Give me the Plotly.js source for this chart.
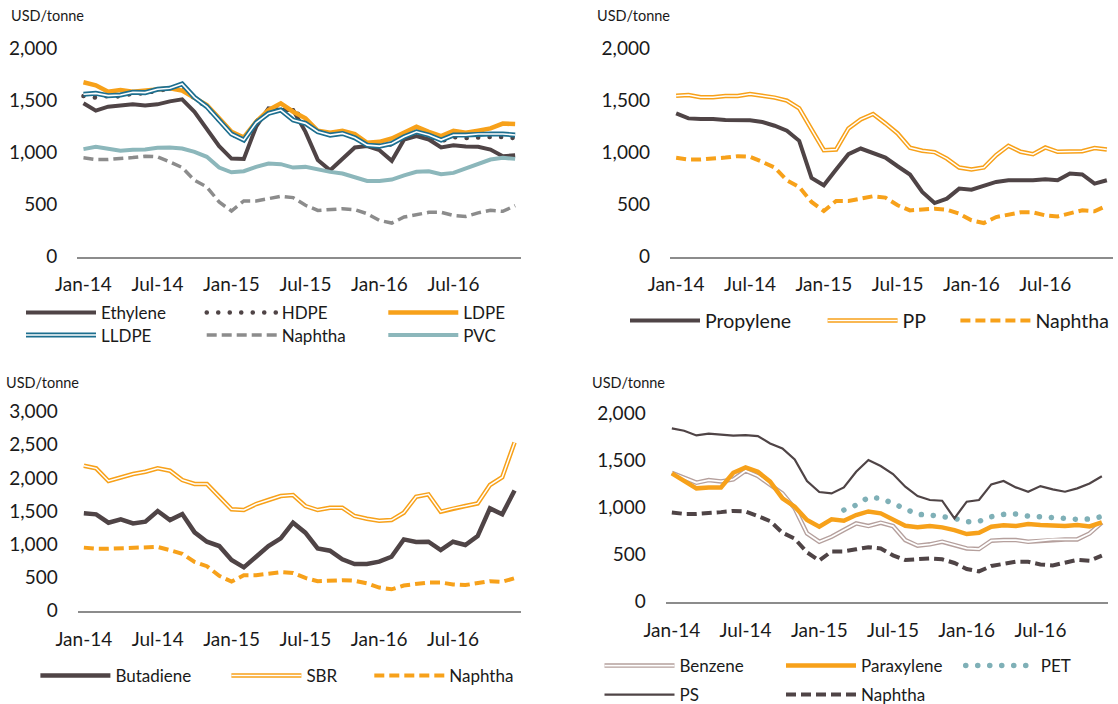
<!DOCTYPE html>
<html>
<head>
<meta charset="utf-8">
<script src="https://cdn.plot.ly/plotly-3.0.1.min.js"></script>
<style>
html,body{margin:0;padding:0;background:#ffffff;}
#chart{width:1118px;height:704px;}
path.js-line[style*="0.1px"]{stroke-linecap:round;}
</style>
</head>
<body>
<div id="chart"></div>
<script>
// ---------------- data ----------------
const months = ['Jan-14','Feb-14','Mar-14','Apr-14','May-14','Jun-14','Jul-14','Aug-14','Sep-14','Oct-14','Nov-14','Dec-14',
                'Jan-15','Feb-15','Mar-15','Apr-15','May-15','Jun-15','Jul-15','Aug-15','Sep-15','Oct-15','Nov-15','Dec-15',
                'Jan-16','Feb-16','Mar-16','Apr-16','May-16','Jun-16','Jul-16','Aug-16','Sep-16','Oct-16','Nov-16','Dec-16'];
const tickLabels = ['Jan-14','Jul-14','Jan-15','Jul-15','Jan-16','Jul-16'];
const yTicks2000 = [0,500,1000,1500,2000];
const yTicks3000 = [0,500,1000,1500,2000,2500,3000];
const unitLabel = 'USD/tonne';

const naphtha   = [950,934,934,940,953,966,960,911,857,734,670,525,438,535,535,557,580,567,493,444,451,460,451,412,348,322,380,406,425,425,396,386,420,445,435,490];

const ethylene  = [1475,1404,1443,1452,1465,1455,1465,1494,1513,1394,1233,1063,943,940,1250,1426,1410,1410,1200,930,830,943,1050,1063,1024,921,1127,1159,1127,1050,1072,1059,1056,1030,965,975];
const hdpe      = [1545,1530,1545,1540,1570,1570,1600,1610,1640,1520,1440,1310,1180,1120,1300,1400,1420,1420,1300,1200,1170,1190,1150,1070,1060,1080,1150,1180,1160,1110,1150,1140,1150,1150,1150,1140];
const ldpe      = [1678,1649,1587,1604,1587,1597,1610,1620,1597,1533,1459,1330,1201,1146,1298,1410,1475,1394,1330,1211,1191,1211,1179,1095,1104,1137,1191,1249,1201,1159,1211,1191,1211,1233,1280,1275];
const lldpe     = [1562,1571,1549,1555,1581,1578,1610,1620,1662,1533,1443,1314,1179,1121,1288,1378,1410,1314,1282,1201,1169,1185,1143,1072,1063,1088,1153,1201,1169,1121,1169,1169,1179,1179,1180,1170];
const pvc       = [1034,1056,1037,1018,1027,1030,1047,1050,1040,1008,960,856,811,821,863,895,889,856,863,837,815,799,766,728,728,741,782,815,821,792,805,847,895,934,950,940];

const propylene = [1378,1330,1324,1324,1314,1311,1311,1295,1259,1211,1114,757,686,837,985,1040,992,953,869,789,621,515,557,654,644,686,718,734,734,734,744,734,800,790,702,734];
const pp        = [1549,1555,1533,1533,1546,1546,1565,1549,1530,1501,1427,1224,1024,1030,1233,1320,1372,1282,1185,1047,1018,1005,943,857,837,857,976,1066,1008,985,1050,1008,1008,1014,1045,1030];

const butadiene = [1466,1451,1325,1375,1315,1340,1501,1365,1456,1180,1039,974,763,653,813,974,1089,1325,1175,939,904,773,703,703,738,813,1074,1034,1039,914,1039,989,1124,1541,1452,1809];
const sbr       = [2184,2144,1953,2008,2058,2093,2144,2108,1968,1908,1908,1717,1526,1516,1606,1667,1727,1742,1576,1516,1551,1551,1426,1386,1355,1365,1476,1717,1752,1491,1541,1576,1616,1893,2010,2533];

const benzene    = [1372,1323,1266,1294,1280,1301,1394,1337,1241,1152,993,727,638,691,762,833,805,840,805,656,596,610,638,603,567,560,649,656,656,638,649,663,663,663,726,842];
const paraxylene = [1365,1287,1206,1216,1216,1372,1429,1383,1277,1099,1011,869,798,876,862,922,960,940,869,808,791,805,791,762,720,734,798,812,805,826,816,808,805,816,800,845];
const pet        = [null,null,null,null,null,null,null,null,null,null,null,null,null,null,975,1028,1110,1099,1046,982,929,922,911,887,851,855,904,929,933,911,904,894,883,876,880,905];
const ps         = [1844,1819,1769,1787,1777,1766,1773,1762,1684,1631,1514,1284,1167,1152,1216,1383,1507,1443,1358,1223,1124,1082,1074,887,1064,1082,1248,1284,1216,1170,1230,1195,1170,1206,1257,1335];

// ---------------- styling ----------------
const W = 1118, H = 704;
const FONT = 'Lato, "Open Sans", sans-serif';
const TXT = '#1a1a1a';
const AXC = '#8c8c8c';
const DARK = '#4f4446';
const ORANGE = '#f7a11a';
const TEALB = '#1d6f8f';
const GREY = '#8c8c8c';
const PVCC = '#8cb7bb';
const PETC = '#7fb0b7';
const BENZ = '#b5a09d';
const DASH = '10px,5px';

const xIdx = months.map((m, i) => i);
const labelPos = tickLabels.map(t => months.indexOf(t));
const bounds = labelPos.map(p => p - 0.5).concat([months.length - 0.5]);
const xRange = [-0.5, months.length - 0.5];

const panels = [
  {left: 77.3,  right: 521.3, zeroY: 256.5, topY: 48.8,  ymax: 2000, yt: yTicks2000, unitX: 9,     unitY: 16,    legFont: 17},
  {left: 670,   right: 1113,  zeroY: 256.5, topY: 48.8,  ymax: 2000, yt: yTicks2000, unitX: 594.5, unitY: 16,    legFont: 19.5},
  {left: 77.7,  right: 520.7, zeroY: 610.7, topY: 411.5, ymax: 3000, yt: yTicks3000, unitX: 3.6,   unitY: 382.3, legFont: 17},
  {left: 665.7, right: 1108,  zeroY: 601.7, topY: 413.7, ymax: 2000, yt: yTicks2000, unitX: 589.5, unitY: 382.3, legFont: 17}
];

const layout = {
  width: W, height: H,
  margin: {l: 0, r: 0, t: 0, b: 0, autoexpand: false},
  paper_bgcolor: '#ffffff', plot_bgcolor: 'rgba(0,0,0,0)',
  showlegend: true,
  font: {family: FONT, color: TXT},
  annotations: []
};

const axName = (k, n) => k + 'axis' + (n === 1 ? '' : n);
const axRef = (k, n) => k + (n === 1 ? '' : n);

panels.forEach((p, i) => {
  const n = i + 1;
  const dom = [p.left / W, p.right / W];
  layout[axName('x', n)] = {
    domain: dom, anchor: axRef('y', n), range: xRange, type: 'linear',
    tickmode: 'array', tickvals: labelPos, ticktext: tickLabels, ticks: '',
    showline: true, linecolor: AXC, linewidth: 2, showgrid: false, zeroline: false,
    tickfont: {family: FONT, size: 19, color: TXT}, ticklabelstandoff: 10, fixedrange: true
  };
  layout[axName('x', n + 4)] = {
    overlaying: axRef('x', n), anchor: axRef('y', n), range: xRange, type: 'linear',
    tickmode: 'array', tickvals: bounds, ticks: 'outside', ticklen: 6, tickwidth: 2, tickcolor: AXC,
    showticklabels: false, showline: false, showgrid: false, zeroline: false
  };
  layout[axName('x', n + 8)] = {
    overlaying: axRef('x', n), anchor: axRef('y', n), range: xRange, type: 'linear',
    tickmode: 'array', tickvals: bounds, ticks: 'inside', ticklen: 7, tickwidth: 2, tickcolor: AXC,
    showticklabels: false, showline: false, showgrid: false, zeroline: false
  };
  layout[axName('y', n)] = {
    domain: [1 - p.zeroY / H, 1 - p.topY / H], anchor: axRef('x', n), range: [0, p.ymax],
    tickmode: 'array', tickvals: p.yt, tickformat: ',d', ticks: '',
    showline: false, showgrid: false, zeroline: false,
    tickfont: {family: FONT, size: 19, color: TXT}, ticklabelstandoff: 19, fixedrange: true
  };
  layout.annotations.push({
    text: unitLabel, xref: 'paper', yref: 'paper', x: p.unitX / W, y: 1 - p.unitY / H,
    xanchor: 'left', yanchor: 'middle', showarrow: false,
    font: {family: FONT, size: 14.5, color: TXT}
  });
});

// legends: one per entry for exact placement
let legendCount = 0;
const LOFF = 5;
function newLegend(symX, rowY, fontSize) {
  legendCount++;
  const id = legendCount === 1 ? 'legend' : 'legend' + legendCount;
  layout[id] = {
    x: (symX - LOFF) / W, y: 1 - rowY / H, xanchor: 'left', yanchor: 'middle',
    orientation: 'h', bgcolor: 'rgba(0,0,0,0)', borderwidth: 0, itemwidth: 70,
    font: {family: FONT, size: fontSize, color: TXT}, itemclick: false, itemdoubleclick: false
  };
  return id;
}

const series = [
  {p: 1, name: 'Ethylene', y: ethylene, color: DARK,   width: 4,   leg: [26, 313]},
  {p: 1, name: 'HDPE',     y: hdpe,     color: DARK,   width: 4.5, dash: '0.1px,11.4px', leg: [206.7, 313]},
  {p: 1, name: 'LDPE',     y: ldpe,     color: ORANGE, width: 4.5, leg: [388.3, 313]},
  {p: 1, name: 'LLDPE',    y: lldpe,    color: TEALB,  width: 5,   inner: 1.6, leg: [26, 335.5]},
  {p: 1, name: 'Naphtha',  y: naphtha,  color: GREY,   width: 3.5, dash: DASH, leg: [206.7, 335.5]},
  {p: 1, name: 'PVC',      y: pvc,      color: PVCC,   width: 4,   leg: [388.3, 335.5]},

  {p: 2, name: 'Propylene', y: propylene, color: DARK,   width: 4,   leg: [630, 320.7]},
  {p: 2, name: 'PP',        y: pp,        color: ORANGE, width: 4.5, inner: 1.5, leg: [827.6, 320.7]},
  {p: 2, name: 'Naphtha',   y: naphtha,   color: ORANGE, width: 4,   dash: DASH, leg: [960.4, 320.7]},

  {p: 3, name: 'Butadiene', y: butadiene, color: DARK,   width: 4.5, leg: [40.4, 676]},
  {p: 3, name: 'SBR',       y: sbr,       color: ORANGE, width: 4.5, inner: 1.5, leg: [231.4, 676]},
  {p: 3, name: 'Naphtha',   y: naphtha,   color: ORANGE, width: 4,   dash: DASH, leg: [374.3, 676]},

  {p: 4, name: 'Benzene',    y: benzene,    color: BENZ,   width: 4.5, inner: 1.8, leg: [604.5, 666]},
  {p: 4, name: 'Paraxylene', y: paraxylene, color: ORANGE, width: 4.5, leg: [786, 666]},
  {p: 4, name: 'PET',        y: pet,        color: PETC,   width: 5.5, dash: '0.1px,11.9px', leg: [965.7, 666]},
  {p: 4, name: 'PS',         y: ps,         color: DARK,   width: 2.2, leg: [604.5, 695]},
  {p: 4, name: 'Naphtha',    y: naphtha,    color: DARK,   width: 4,   dash: DASH, leg: [786, 695]}
];

const data = [];
series.forEach(s => {
  const fs = panels[s.p - 1].legFont;
  const lid = newLegend(s.leg[0], s.leg[1], fs);
  data.push({
    type: 'scatter', mode: 'lines', name: s.name, x: xIdx, y: s.y,
    xaxis: axRef('x', s.p), yaxis: axRef('y', s.p),
    line: {color: s.color, width: s.width, dash: s.dash || 'solid'},
    connectgaps: false, hoverinfo: 'skip', legend: lid, showlegend: true
  });
  if (s.inner) {
    const lid2 = newLegend(s.leg[0], s.leg[1], fs);
    data.push({
      type: 'scatter', mode: 'lines', name: ' ', x: xIdx, y: s.y,
      xaxis: axRef('x', s.p), yaxis: axRef('y', s.p),
      line: {color: '#ffffff', width: s.inner},
      hoverinfo: 'skip', legend: lid2, showlegend: true
    });
  }
});

Plotly.newPlot('chart', data, layout, {staticPlot: true, displayModeBar: false});
</script>
</body>
</html>
